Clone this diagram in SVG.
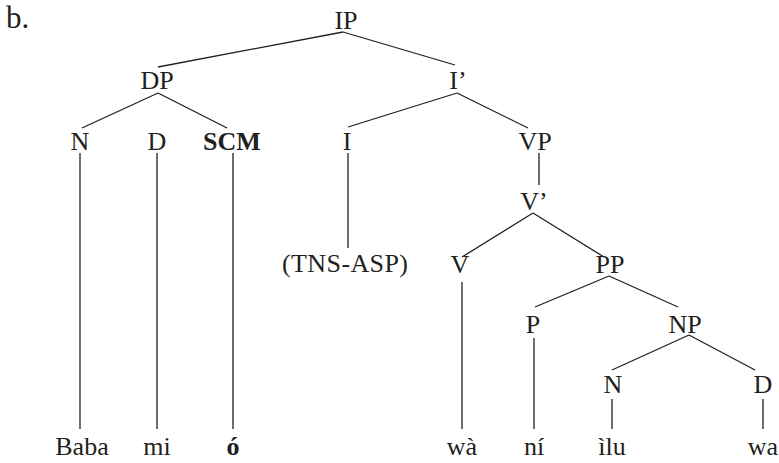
<svg xmlns="http://www.w3.org/2000/svg" width="779" height="463" viewBox="0 0 779 463">
<style>
text{font-family:'Liberation Serif','Times New Roman',serif;font-size:26px;fill:#231f20;text-anchor:middle}
.b{font-weight:bold}
.l{text-anchor:start;font-size:31px}
#edges line{stroke:#231f20;stroke-width:1.3}
</style>
<rect width="779" height="463" fill="#fff"/>
<text class="l" x="6" y="28">b.</text>
<g id="edges">
<line x1="343" y1="32" x2="158" y2="67"/>
<line x1="343" y1="32" x2="455" y2="65"/>
<line x1="158" y1="93" x2="82" y2="128"/>
<line x1="158" y1="93" x2="227" y2="128"/>
<line x1="457" y1="93" x2="348" y2="127"/>
<line x1="457" y1="93" x2="528" y2="128"/>
<line x1="80" y1="153" x2="80" y2="429"/>
<line x1="157" y1="153" x2="157" y2="429"/>
<line x1="233" y1="153" x2="233" y2="429"/>
<line x1="348" y1="153" x2="348" y2="248"/>
<line x1="539" y1="153" x2="539" y2="185"/>
<line x1="533" y1="213" x2="462" y2="257"/>
<line x1="533" y1="213" x2="604" y2="257"/>
<line x1="462" y1="282" x2="462" y2="429"/>
<line x1="609" y1="276" x2="535" y2="307"/>
<line x1="609" y1="276" x2="678" y2="307"/>
<line x1="534" y1="338" x2="534" y2="429"/>
<line x1="689" y1="335" x2="612" y2="370"/>
<line x1="689" y1="335" x2="755" y2="370"/>
<line x1="612" y1="399" x2="612" y2="429"/>
<line x1="763" y1="399" x2="763" y2="429"/>
</g>
<g id="IP"><text x="346" y="29">IP</text></g>
<g id="DP"><text x="157" y="89">DP</text></g>
<g id="Ibar"><text x="458" y="89">I’</text></g>
<g id="N1"><text x="80" y="150">N</text></g>
<g id="D1"><text x="157" y="150">D</text></g>
<g id="SCM"><text class="b" x="232" y="150">SCM</text></g>
<g id="I"><text x="347" y="150">I</text></g>
<g id="VP"><text x="535" y="150">VP</text></g>
<g id="Vbar"><text x="534" y="210">V’</text></g>
<g id="TNS"><text x="345" y="272" textLength="126">(TNS-ASP)</text></g>
<g id="V"><text x="460" y="273">V</text></g>
<g id="PP"><text x="610" y="273">PP</text></g>
<g id="P"><text x="533" y="333">P</text></g>
<g id="NP"><text x="685" y="333">NP</text></g>
<g id="N2"><text x="613" y="393">N</text></g>
<g id="D2"><text x="763" y="393">D</text></g>
<g id="w1"><text x="82" y="455">Baba</text></g>
<g id="w2"><text x="157" y="455">mi</text></g>
<g id="w3"><text class="b" x="233" y="455">ó</text></g>
<g id="w4"><text x="462" y="455">wà</text></g>
<g id="w5"><text x="534" y="455">ní</text></g>
<g id="w6"><text x="612" y="455">ìlu</text></g>
<g id="w7"><text x="763" y="455">wa</text></g>
</svg>
